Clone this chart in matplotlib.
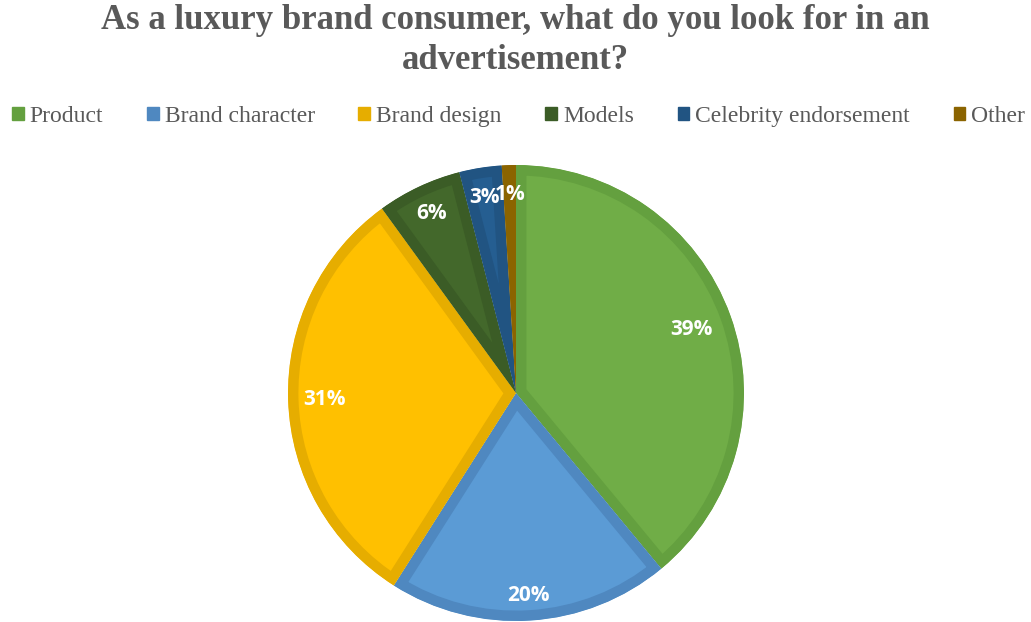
import matplotlib
matplotlib.use("Agg")
import matplotlib.pyplot as plt
from matplotlib.patches import Patch
import numpy as np

# survey answers (share of respondents, %)
categories = ["Product", "Brand character", "Brand design", "Models",
              "Celebrity endorsement", "Other"]
shares = [39, 20, 31, 6, 3, 1]
labels = ["39%", "20%", "31%", "6%", "3%", "1%"]

fill_colors = ["#70AD47", "#5B9BD5", "#FFC000", "#43682B", "#255E91", "#9E7000"]
edge_colors = ["#64A03F", "#4F88C0", "#E6AD00", "#3B5C26", "#215482", "#8B6400"]
label_dist = [0.82, 0.89, 0.84, 0.87, 0.87, 0.87]

fig = plt.figure(figsize=(10.31, 6.22), dpi=100)
ax = fig.add_axes([288 / 1031, 1 / 622, 456 / 1031, 456 / 622])

wedges, _ = ax.pie(shares, colors=fill_colors, startangle=90, counterclock=False,
                   radius=1.0)
for w, ec in zip(wedges, edge_colors):
    # thick border kept inside each slice
    w.set_edgecolor(ec)
    w.set_linewidth(15)
    w.set_joinstyle("miter")
    w.set_clip_on(True)
    w.set_clip_path(w)

for w, lab, d in zip(wedges, labels, label_dist):
    ang = np.deg2rad((w.theta1 + w.theta2) / 2)
    ax.text(d * np.cos(ang), d * np.sin(ang), lab, ha="center", va="center",
            color="white", fontsize=15, fontweight="bold", family="Open Sans")

ax.set_xlim(-1, 1)
ax.set_ylim(-1, 1)
ax.set_aspect("equal")
ax.axis("off")

fig.text(0.5, 0.993, "As a luxury brand consumer, what do you look for in an\nadvertisement?",
         ha="center", va="top", fontsize=25, fontweight="bold",
         family="Liberation Serif", color="#595959", linespacing=1.28)

handles = [Patch(facecolor=c, edgecolor=c) for c in edge_colors]
leg = fig.legend(handles, categories, loc="center", bbox_to_anchor=(0.503, 0.813),
                 ncol=6, frameon=False, handlelength=0.5, handleheight=0.5,
                 handletextpad=0.25, columnspacing=1.85, borderpad=0.1,
                 prop={"family": "Liberation Serif", "size": 17})
for t in leg.get_texts():
    t.set_color("#595959")

fig.savefig("out.png", dpi=100)
